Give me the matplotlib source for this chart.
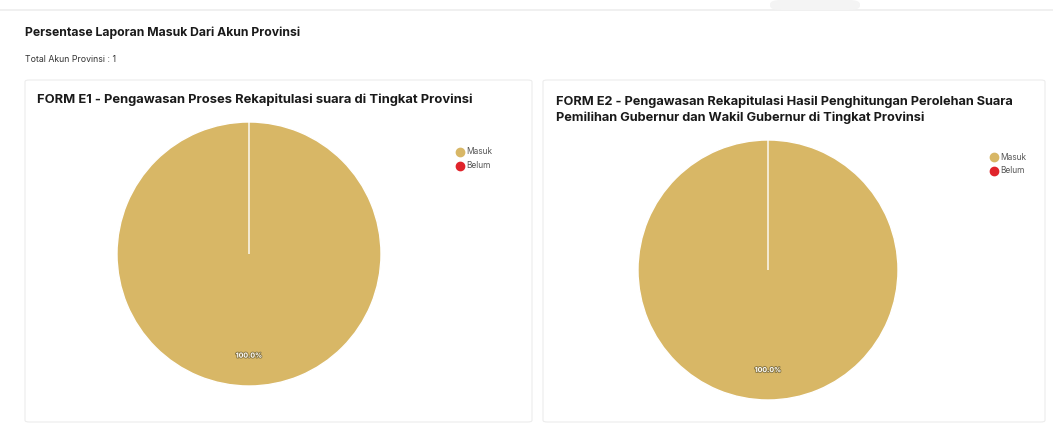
import matplotlib
matplotlib.use("Agg")
import matplotlib.pyplot as plt
from matplotlib.patches import FancyBboxPatch
from matplotlib.lines import Line2D
import matplotlib.patheffects as pe

plt.rcParams['font.family'] = ['Inter', 'DejaVu Sans']

# ---- data ----
page_title = "Persentase Laporan Masuk Dari Akun Provinsi"
subtitle = "Total Akun Provinsi : 1"
chart_titles = [
    "FORM E1 - Pengawasan Proses Rekapitulasi suara di Tingkat Provinsi",
    "FORM E2 - Pengawasan Rekapitulasi Hasil Penghitungan Perolehan Suara\nPemilihan Gubernur dan Wakil Gubernur di Tingkat Provinsi",
]
labels = ["Masuk", "Belum"]
values_e1 = [1, 0]
values_e2 = [1, 0]
colors = ["#D8B766", "#E0242B"]

W, H = 1053, 432
fig = plt.figure(figsize=(W / 100, H / 100), dpi=100)
fig.patch.set_facecolor("#FFFFFF")

def fx(x):
    return x / W

def fy(y):
    return 1 - y / H

# top separator line
fig.add_artist(Line2D([0, 1], [fy(10), fy(10)], color="#EDEDED", lw=1.2, zorder=-3))
fig.add_artist(FancyBboxPatch((fx(770), fy(10)), fx(90), 10 / H,
                              boxstyle="round,pad=0,rounding_size=0.01",
                              fc="#F4F4F4", ec="none", zorder=-3))

fig.text(fx(25), fy(33), page_title, fontsize=8.8, fontweight="bold",
         color="#1A1A1A", va="center", ha="left")
fig.text(fx(25), fy(59), subtitle, fontsize=6.3, color="#333333",
         va="center", ha="left")

# cards
cards = [(25, 80, 532, 422), (543, 80, 1045, 422)]
for (x0, y0, x1, y1) in cards:
    fig.add_artist(FancyBboxPatch((fx(x0), fy(y1)), fx(x1 - x0), (y1 - y0) / H,
                                  boxstyle="round,pad=0,rounding_size=0.004",
                                  fc="#FFFFFF", ec="#ECECEC", lw=0.8, zorder=-2))

fig.text(fx(37), fy(100), chart_titles[0], fontsize=9.35, fontweight="bold",
         color="#1A1A1A", va="center", ha="left")
fig.text(fx(556), fy(110), chart_titles[1], fontsize=9.2, fontweight="bold",
         color="#1A1A1A", va="center", ha="left", linespacing=1.42)

def draw_pie(cx, cy, r, vals, legend_x, legend_y):
    ax = fig.add_axes([fx(cx - r), fy(cy + r), 2 * r / W, 2 * r / H])
    ax.set_zorder(2)
    wedges, texts, autotexts = ax.pie(
        vals, colors=colors, startangle=90, counterclock=False,
        autopct=lambda p: f"{p:.1f}%" if p > 0 else "",
        pctdistance=0.77, radius=1,
        wedgeprops=dict(edgecolor="white", linewidth=1.0),
        textprops=dict(color="white", fontsize=5, fontweight="bold"))
    for t in autotexts:
        t.set_path_effects([pe.withStroke(linewidth=1.3, foreground="#8A7845")])
    ax.set_xlim(-1.0, 1.0)
    ax.set_ylim(-1.0, 1.0)
    ax.set_aspect("equal")
    ax.axis("off")
    for i, lab in enumerate(labels):
        yy = legend_y + i * 14
        fig.add_artist(Line2D([fx(legend_x)], [fy(yy)], marker="o", ms=6,
                              color=colors[i], ls="none"))
        fig.text(fx(legend_x + 6), fy(yy), lab, fontsize=6, color="#555555",
                 va="center", ha="left")

draw_pie(249, 254, 132, values_e1, 460, 152)
draw_pie(768, 270, 130, values_e2, 994, 157)

fig.savefig("out.png", dpi=100)
